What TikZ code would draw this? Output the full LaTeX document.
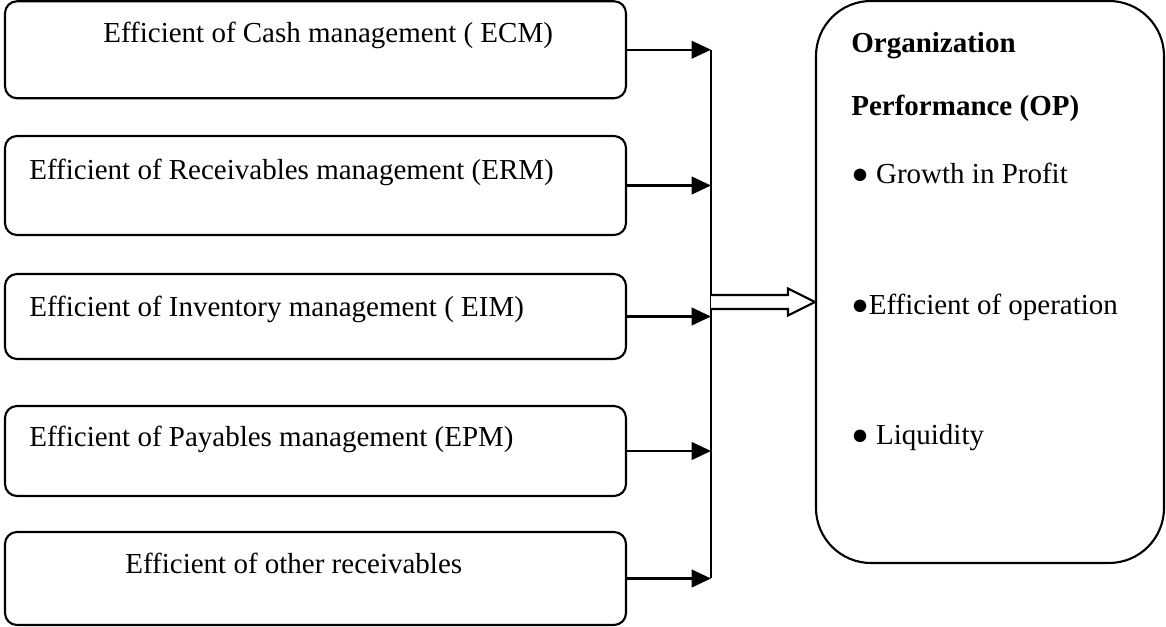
\documentclass[tikz,border=0pt]{standalone}
\usepackage{fontspec}
\setmainfont{Liberation Serif}
\usetikzlibrary{arrows.meta}

\begin{document}
\begin{tikzpicture}[
    x=1cm, y=1cm,
    leftbox/.style={draw=black, line width=1.2pt, rounded corners=0.24cm,
                    minimum width=12.42cm, inner sep=0pt},
    outbox/.style={draw=black, line width=1.2pt, rounded corners=1.1cm,
                   minimum width=6.96cm, minimum height=11.24cm, inner sep=0pt},
    txt/.style={anchor=base west, inner sep=0pt,
                font=\fontsize{16.5}{19.8}\selectfont},
    feed/.style={draw=black, line width=1.3pt,
                 -{Triangle[length=11pt, width=10pt]}},
    busline/.style={draw=black, line width=1.3pt},
    hollow/.style={draw=black, line width=1.2pt, fill=white},
  ]
  \useasboundingbox (0,0) rectangle (23.32,-12.54);
  \node[leftbox, minimum height=1.94cm] (cash)  at (6.31,-0.995) {};
  \node[leftbox, minimum height=1.98cm] (recv)  at (6.31,-3.71) {};
  \node[leftbox, minimum height=1.70cm] (inv)   at (6.31,-6.33) {};
  \node[leftbox, minimum height=1.80cm] (pay)   at (6.31,-9.02) {};
  \node[leftbox, minimum height=1.86cm] (other) at (6.31,-11.57) {};
  \node[txt] (cashtxt)  at (2.06,-0.86)  {Efficient of Cash management ( ECM)};
  \node[txt] (recvtxt)  at (0.58,-3.60)  {Efficient of Receivables management (ERM)};
  \node[txt] (invtxt)   at (0.58,-6.34)  {Efficient of Inventory management ( EIM)};
  \node[txt] (paytxt)   at (0.58,-8.94)  {Efficient of Payables management (EPM)};
  \node[txt] (othertxt) at (2.50,-11.46) {Efficient of other receivables};
  \node[outbox] (perf) at (19.80,-5.64) {};
  \node[txt, font=\fontsize{16.5}{19.8}\selectfont\bfseries] (orgtxt) at (17.02,-1.06) {Organization};
  \node[txt, font=\fontsize{16.5}{19.8}\selectfont\bfseries] (optxt) at (17.02,-2.32) {Performance (OP)};
  \node[txt] (growtxt) at (17.02,-3.68) {● Growth in Profit};
  \node[txt] (opertxt) at (17.02,-6.30) {●Efficient of operation};
  \node[txt] (liqtxt)  at (17.02,-8.90) {● Liquidity};
  \coordinate (bus) at (14.22,0);
  \coordinate (hin) at (14.22,-6.04);
  \coordinate (tip) at (perf.west |- hin);
  \foreach \b in {cash, recv, inv, pay, other} { \draw[feed] (\b.east) -- (bus |- \b.east); }
  \draw[busline] (bus |- cash.east) -- (bus |- other.east);
  \draw[hollow] ([yshift=0.14cm]hin) -- ([xshift=-0.54cm, yshift=0.14cm]tip)
    -- ([xshift=-0.54cm, yshift=0.27cm]tip) -- (tip)
    -- ([xshift=-0.54cm, yshift=-0.27cm]tip) -- ([xshift=-0.54cm, yshift=-0.14cm]tip)
    -- ([yshift=-0.14cm]hin);
\end{tikzpicture}
\end{document}
